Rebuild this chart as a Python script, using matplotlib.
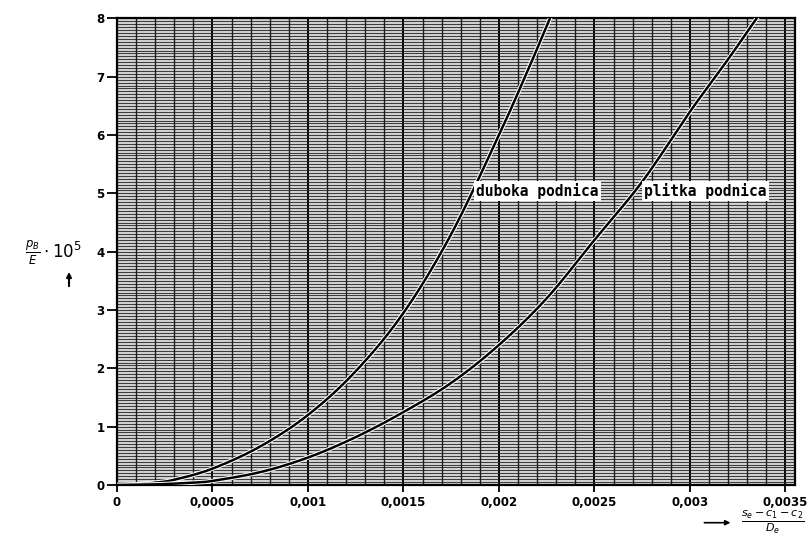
import numpy as np
import matplotlib
matplotlib.use('Agg')
import matplotlib.pyplot as plt
import matplotlib.patheffects as pe
from matplotlib.patches import FancyArrowPatch
from matplotlib.ticker import MultipleLocator, FixedLocator

# values
x_tick_vals = [0, 0.0005, 0.001, 0.0015, 0.002, 0.0025, 0.003, 0.0035]
x_tick_labels = ['0', '0,0005', '0,001', '0,0015', '0,002', '0,0025', '0,003', '0,0035']
y_tick_vals = [0, 1, 2, 3, 4, 5, 6, 7, 8]

duboka_x = [0, 0.0001, 0.0002, 0.0003, 0.0005, 0.00075, 0.001, 0.00125, 0.0015,
            0.00175, 0.002, 0.00215, 0.00228]
duboka_y = [0, 0.01, 0.04, 0.09, 0.28, 0.66, 1.2, 1.95, 2.95, 4.3, 6.0, 7.1, 8.1]

plitka_x = [0, 0.0002, 0.0004, 0.0005, 0.00075, 0.001, 0.00125, 0.0015, 0.00175,
            0.002, 0.00225, 0.0025, 0.00275, 0.003, 0.0032, 0.00337]
plitka_y = [0, 0.01, 0.04, 0.07, 0.22, 0.47, 0.82, 1.25, 1.75, 2.4, 3.2, 4.2,
            5.2, 6.4, 7.3, 8.1]


# catmull-rom so the hand-drawn curves come out smooth
def smooth(xs, ys, n=16):
    p = np.column_stack([xs, ys]).astype(float)
    p = np.vstack([2 * p[0] - p[1], p, 2 * p[-1] - p[-2]])
    t = np.linspace(0, 1, n, endpoint=False)[:, None]
    out = []
    for i in range(1, len(p) - 2):
        p0, p1, p2, p3 = p[i - 1], p[i], p[i + 1], p[i + 2]
        out.append(0.5 * (2 * p1 + (-p0 + p2) * t + (2 * p0 - 5 * p1 + 4 * p2 - p3) * t ** 2
                          + (-p0 + 3 * p1 - 3 * p2 + p3) * t ** 3))
    out.append(p[-2][None, :])
    out = np.vstack(out)
    return out[:, 0], out[:, 1]


fig = plt.figure(figsize=(8.12, 5.35), dpi=100)
ax = fig.add_axes([0.144, 0.0935, 0.835, 0.872])
ax.set_facecolor('#cfcfcf')

ax.set_xlim(0, 0.00355)
ax.set_ylim(0, 8)

# dense graph-paper grid
ax.xaxis.set_major_locator(FixedLocator(x_tick_vals))
ax.xaxis.set_minor_locator(MultipleLocator(0.0001))
ax.yaxis.set_major_locator(FixedLocator(y_tick_vals))
ax.yaxis.set_minor_locator(MultipleLocator(0.05))
ax.grid(which='minor', axis='y', color='#222222', linewidth=0.6)
ax.grid(which='minor', axis='x', color='#1a1a1a', linewidth=1.0)
ax.grid(which='major', axis='x', color='black', linewidth=1.4)
ax.grid(which='major', axis='y', color='#222222', linewidth=0.6)
ax.set_axisbelow(True)

halo = [pe.Stroke(linewidth=3.2, foreground='white'), pe.Normal()]
dx, dy = smooth(duboka_x, duboka_y)
px, py = smooth(plitka_x, plitka_y)
ax.plot(dx, dy, color='black', linewidth=1.8, zorder=3, path_effects=halo)
ax.plot(px, py, color='black', linewidth=1.8, zorder=3, path_effects=halo)

for s in ax.spines.values():
    s.set_linewidth(1.6)

ax.set_xticklabels(x_tick_labels)
ax.tick_params(which='minor', length=0)
ax.tick_params(which='major', axis='y', length=7, width=1.3, direction='out', pad=2)
ax.tick_params(which='major', axis='x', length=5, width=1.3, direction='out', pad=3)
for lab in ax.get_xticklabels() + ax.get_yticklabels():
    lab.set_fontsize(8.5)
    lab.set_fontweight('bold')

box = dict(facecolor='white', edgecolor='none', pad=1.5)
ax.text(0.00188, 5.04, 'duboka podnica', family='DejaVu Sans Mono', fontsize=10.5,
        fontweight='bold', va='center', ha='left', bbox=box, zorder=4)
ax.text(0.00276, 5.04, 'plitka podnica', family='DejaVu Sans Mono', fontsize=10.5,
        fontweight='bold', va='center', ha='left', bbox=box, zorder=4)

# axis titles
fig.text(0.066, 0.527, r'$\frac{p_B}{E}\cdot 10^5$', fontsize=12, ha='center', va='center')
fig.add_artist(FancyArrowPatch(
    (0.085, 0.46), (0.085, 0.497), transform=fig.transFigure,
    arrowstyle='-|>', mutation_scale=7, color='black', linewidth=1.5))
fig.add_artist(FancyArrowPatch(
    (0.864, 0.023), (0.903, 0.023), transform=fig.transFigure,
    arrowstyle='-|>', mutation_scale=7, color='black', linewidth=1.2))
fig.text(0.952, 0.024, r'$\frac{s_e - c_1 - c_2}{D_e}$', fontsize=11.5, ha='center', va='center')

fig.savefig('out.png', dpi=100)
